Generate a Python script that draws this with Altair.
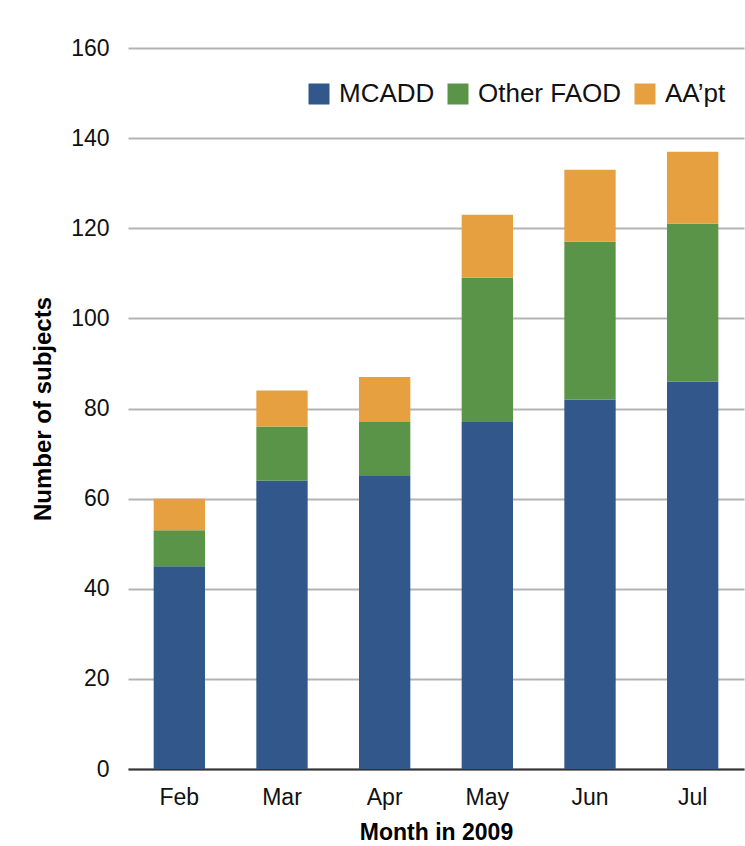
import altair as alt
import pandas as pd

months = ["Feb", "Mar", "Apr", "May", "Jun", "Jul"]
series = ["MCADD", "Other FAOD", "AA\u2019pt"]
mcadd = [45, 64, 65, 77, 82, 86]
other_faod = [8, 12, 12, 32, 35, 35]
aa_pt = [7, 8, 10, 14, 16, 16]
colors = ["#31578B", "#5A9448", "#E6A040"]
y_ticks = [0, 20, 40, 60, 80, 100, 120, 140, 160]

rows = []
for i, m in enumerate(months):
    for k, (s, vals) in enumerate(zip(series, [mcadd, other_faod, aa_pt])):
        rows.append({"Month": m, "Series": s, "Value": vals[i], "ord": k})
df = pd.DataFrame(rows)

FONT = "Liberation Sans"

chart = alt.Chart(df).mark_bar().encode(
    x=alt.X(
        "Month:N",
        sort=months,
        scale=alt.Scale(paddingInner=0.5, paddingOuter=0.25),
        axis=alt.Axis(
            title="Month in 2009",
            labelAngle=0,
            labelFontSize=23,
            labelFont=FONT,
            labelColor="#111111",
            labelPadding=17,
            ticks=False,
            domain=True,
            domainColor="#333333",
            domainWidth=2,
            grid=False,
            titleFont=FONT,
            titleFontSize=23,
            titleFontWeight="bold",
            titleColor="#000000",
            titlePadding=12,
        ),
    ),
    y=alt.Y(
        "Value:Q",
        stack="zero",
        scale=alt.Scale(domain=[0, 160], nice=False),
        axis=alt.Axis(
            title="Number of subjects",
            values=y_ticks,
            labelFontSize=23,
            labelFont=FONT,
            labelColor="#111111",
            labelPadding=19,
            ticks=False,
            domain=False,
            grid=True,
            gridColor="#b3b3b3",
            gridWidth=2,
            titleFont=FONT,
            titleFontSize=24,
            titleFontWeight="bold",
            titleColor="#000000",
            titlePadding=15,
        ),
    ),
    color=alt.Color(
        "Series:N",
        scale=alt.Scale(domain=series, range=colors),
        legend=alt.Legend(
            title=None,
            orient="none",
            direction="horizontal",
            legendX=178,
            legendY=33,
            symbolType="square",
            symbolSize=441,
            symbolStrokeWidth=0,
            labelFontSize=26,
            labelFont=FONT,
            labelColor="#111111",
            labelOffset=7,
            columnPadding=10,
            labelLimit=400,
        ),
    ),
    order=alt.Order("ord:Q", sort="ascending"),
).properties(
    width=616,
    height=721,
    background="white",
    padding={"left": 128, "top": 48, "right": 1, "bottom": 77},
    autosize=alt.AutoSizeParams(type="none"),
).configure_view(stroke=None)

chart.save("out.html", embed_options={"renderer": "svg", "actions": False})
